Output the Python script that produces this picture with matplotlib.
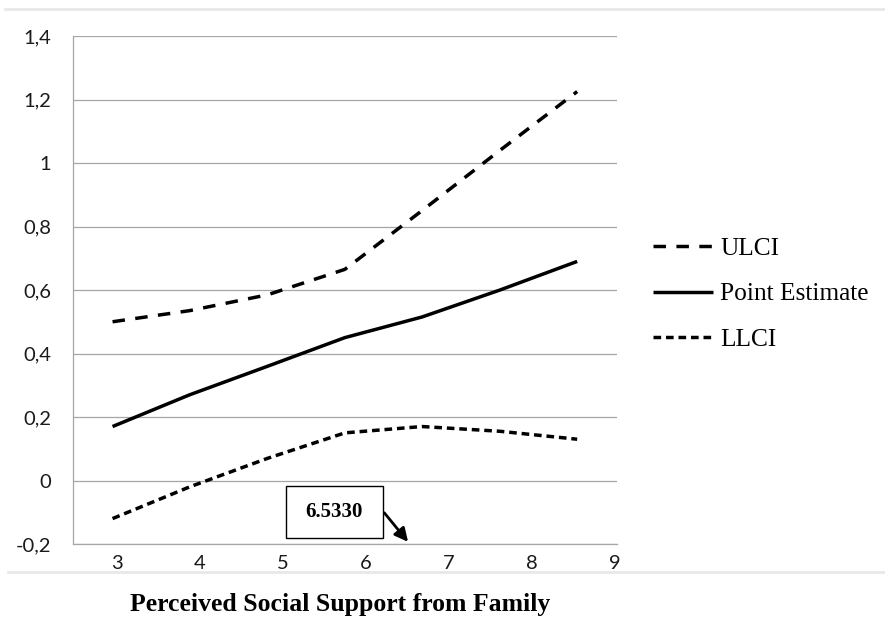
import matplotlib
matplotlib.use('Agg')
import matplotlib.pyplot as plt
from matplotlib.lines import Line2D
from matplotlib.patches import Rectangle
from matplotlib.ticker import FuncFormatter

# moderator values and conditional effect with its confidence band
support = [2.95, 3.88, 4.82, 5.75, 6.68, 7.62, 8.55]
ulci = [0.50, 0.535, 0.585, 0.665, 0.85, 1.04, 1.225]
estimate = [0.17, 0.27, 0.36, 0.45, 0.515, 0.60, 0.69]
llci = [-0.12, -0.02, 0.07, 0.15, 0.17, 0.155, 0.13]

jn_point = 6.5330
x_ticks = [3, 4, 5, 6, 7, 8, 9]
y_ticks = [-0.2, 0, 0.2, 0.4, 0.6, 0.8, 1, 1.2, 1.4]

grid_col = '#a6a6a6'
serif = ['Liberation Serif', 'DejaVu Serif']

fig = plt.figure(figsize=(8.85, 6.24), dpi=100)
ax = fig.add_axes([73.3 / 885, 1 - 544 / 624, (617 - 73.3) / 885, (544 - 36) / 624])

ax.plot(support, ulci, color='black', lw=2.5, dashes=(3.6, 3.0), label='ULCI')
ax.plot(support, estimate, color='black', lw=2.5, solid_capstyle='butt', label='Point Estimate')
ax.plot(support, llci, color='black', lw=2.5, dashes=(2.2, 1.4), label='LLCI')

ax.set_xlim(2.477, 9.03)
ax.set_ylim(-0.2, 1.4)
ax.set_xticks(x_ticks)
ax.set_yticks(y_ticks)
ax.yaxis.set_major_formatter(FuncFormatter(lambda v, p: f'{v:g}'.replace('.', ',')))
ax.tick_params(length=0, labelsize=14.5)
ax.tick_params(axis='y', pad=16)
ax.tick_params(axis='x', pad=8)
for lab in ax.get_xticklabels() + ax.get_yticklabels():
    lab.set_family(['Lato', 'DejaVu Sans'])
    lab.set_color('#1a1a1a')

ax.grid(axis='y', color=grid_col, lw=0.9)
ax.set_axisbelow(True)
for side in ['top', 'right']:
    ax.spines[side].set_visible(False)
for side in ['left', 'bottom']:
    ax.spines[side].set_color(grid_col)
    ax.spines[side].set_linewidth(0.9)

# Johnson-Neyman point callout
box_w, box_h = 97 / 83, 52 / 317.5
bx, by = 5.62 - box_w / 2, -0.099 - box_h / 2
ax.add_patch(Rectangle((bx, by), box_w, box_h, facecolor='white', edgecolor='black', lw=1.0, zorder=3))
ax.text(5.62, -0.099, f'{jn_point:.4f}', ha='center', va='center', fontsize=15,
        fontweight='bold', family=serif, zorder=4)
ax.annotate('', xy=(jn_point, -0.2), xytext=(bx + box_w, -0.095),
            arrowprops=dict(arrowstyle='-|>', color='black', lw=2.0, mutation_scale=20),
            annotation_clip=False, zorder=4)

leg = ax.legend(loc='center left', bbox_to_anchor=(653 / 885, 1 - 294 / 624),
                bbox_transform=fig.transFigure, frameon=False, borderpad=0, borderaxespad=0,
                handlelength=2.35, handletextpad=0.3, labelspacing=0.9,
                prop={'family': serif, 'size': 18.3})

fig.text(340 / 885, 1 - 605 / 624, 'Perceived Social Support from Family', ha='center', va='center',
         fontsize=18.5, fontweight='bold', family=serif)

# light separator rules above and below the chart
fig.add_artist(Line2D([5 / 885, 1], [1 - 9 / 624] * 2, color='#e8e8e8', lw=2))
fig.add_artist(Line2D([8 / 885, 1], [1 - 572 / 624] * 2, color='#e8e8e8', lw=2))

fig.savefig('out.png', dpi=100)
